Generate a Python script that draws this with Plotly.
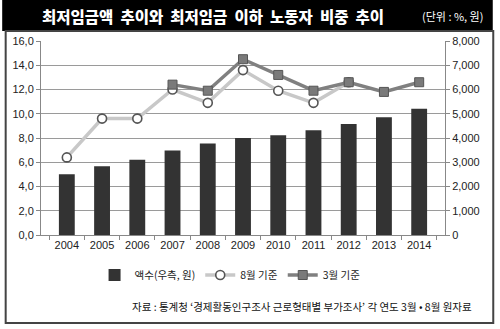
import plotly.graph_objects as go

# Data
years = ["2004", "2005", "2006", "2007", "2008", "2009", "2010", "2011", "2012", "2013", "2014"]
wage_won = [2510, 2840, 3100, 3480, 3770, 4000, 4110, 4320, 4580, 4860, 5210]
aug_years = ["2004", "2005", "2006", "2007", "2008", "2009", "2010", "2011", "2012"]
aug_share = [6.4, 9.6, 9.6, 12.0, 10.9, 13.6, 11.9, 10.9, 12.6]
mar_years = ["2007", "2008", "2009", "2010", "2011", "2012", "2013", "2014"]
mar_share = [12.4, 11.9, 14.5, 13.2, 11.9, 12.6, 11.8, 12.6]

left_ticks = [0, 2, 4, 6, 8, 10, 12, 14, 16]
left_labels = ["0,0", "2,0", "4,0", "6,0", "8,0", "10,0", "12,0", "14,0", "16,0"]
right_ticks = [0, 1000, 2000, 3000, 4000, 5000, 6000, 7000, 8000]
right_labels = ["0", "1,000", "2,000", "3,000", "4,000", "5,000", "6,000", "7,000", "8,000"]

W, H = 500, 329
ML, MR, MT, MB = 39, 55, 41, 94
PW, PH = W - ML - MR, H - MT - MB


def px(x):
    return (x - ML) / PW


def py(y):
    return (H - MB - y) / PH


LAT = "Liberation Sans, Arial, sans-serif"
KR = "Noto Sans CJK KR, sans-serif"
GAP = "\u00a0\u00a0"

fig = go.Figure()

fig.add_trace(go.Bar(
    x=years, y=wage_won, name="액수(우측, 원)", yaxis="y",
    marker=dict(color="#333333", line=dict(width=0)), width=0.45,
))
fig.add_trace(go.Scatter(
    x=aug_years, y=aug_share, name="8월 기준", yaxis="y2", mode="lines+markers",
    line=dict(color="#c8c8c8", width=3.5),
    marker=dict(symbol="circle", size=9, color="white", line=dict(color="#555555", width=1.6)),
))
fig.add_trace(go.Scatter(
    x=mar_years, y=mar_share, name="3월 기준", yaxis="y2", mode="lines+markers",
    line=dict(color="#808080", width=3.5),
    marker=dict(symbol="square", size=9, color="#7a7a7a", line=dict(color="#555555", width=1)),
))

shapes = [
    # title bar
    dict(type="rect", xref="paper", yref="paper", x0=px(0), x1=px(493), y0=py(31), y1=py(0),
         fillcolor="black", line=dict(width=0), layer="below"),
    # outer frame
    dict(type="rect", xref="paper", yref="paper", x0=px(3.5), x1=px(493.5), y0=py(323), y1=py(31),
         line=dict(color="#444444", width=2), layer="below"),
]

title_words = ["최저임금액", "추이와", "최저임금", "이하", "노동자", "비중", "추이"]
annotations = [
    dict(text=GAP.join(title_words), xref="paper", yref="paper",
         x=px(212), y=py(16), xanchor="center", yanchor="middle", showarrow=False,
         font=dict(family=KR, size=15.5, color="white", weight=900)),
    dict(text="(단위 : %, 원)", xref="paper", yref="paper",
         x=px(453), y=py(16), xanchor="center", yanchor="middle", showarrow=False,
         font=dict(family=KR, size=11, color="white")),
    dict(text="자료 : 통계청 ‘경제활동인구조사 근로형태별 부가조사’ 각 연도 3월 • 8월 원자료",
         xref="paper", yref="paper", x=px(301), y=py(306), xanchor="center", yanchor="middle",
         showarrow=False, font=dict(family=KR, size=10.5, color="#111111")),
]

fig.update_layout(
    width=W, height=H,
    margin=dict(l=ML, r=MR, t=MT, b=MB),
    paper_bgcolor="white", plot_bgcolor="white",
    showlegend=True,
    legend=dict(orientation="h", x=px(229), xanchor="center", y=py(275), yanchor="middle",
                font=dict(family=KR, size=10.5, color="#222222"), itemwidth=30,
                bgcolor="rgba(0,0,0,0)", traceorder="normal"),
    xaxis=dict(type="category", showline=True, linecolor="#888888", linewidth=1,
               ticks="outside", tickson="boundaries", ticklen=4, tickcolor="#888888",
               tickfont=dict(family=LAT, size=11, color="#222222"), showgrid=False),
    yaxis=dict(side="right", range=[0, 8000], tickvals=right_ticks, ticktext=right_labels,
               showline=True, linecolor="#888888", ticks="outside", ticklen=4, tickcolor="#888888",
               showgrid=True, gridcolor="#9a9a9a", gridwidth=1, zeroline=False,
               tickfont=dict(family=LAT, size=11, color="#222222")),
    yaxis2=dict(side="left", overlaying="y", range=[0, 16], tickvals=left_ticks, ticktext=left_labels,
                showline=True, linecolor="#888888", ticks="outside", ticklen=4, tickcolor="#888888",
                showgrid=False, zeroline=False,
                tickfont=dict(family=LAT, size=11, color="#222222")),
    shapes=shapes, annotations=annotations,
)

fig.write_html("out.html")
